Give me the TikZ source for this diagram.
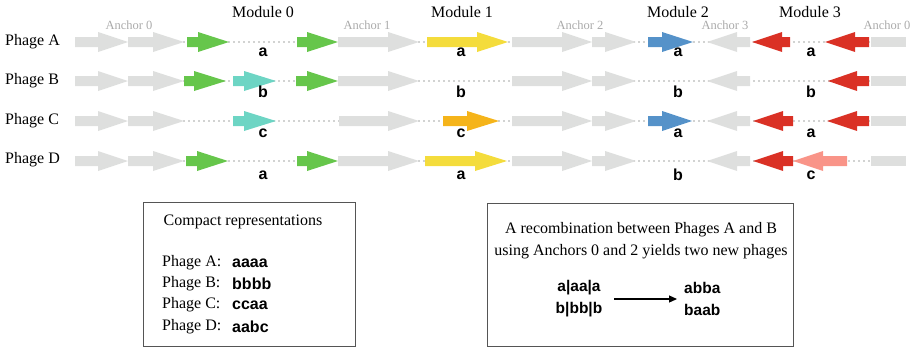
\documentclass[tikz,border=0pt]{standalone}
\usepackage{fontspec}
\setmainfont{Liberation Serif}
\newfontfamily\hvf{Liberation Sans}
\usetikzlibrary{arrows.meta}
\definecolor{gry}{HTML}{DEDFDE}
\definecolor{grn}{HTML}{66C64B}
\definecolor{tea}{HTML}{6DD5C4}
\definecolor{ylw}{HTML}{F4DC3C}
\definecolor{org}{HTML}{F5B41A}
\definecolor{blu}{HTML}{5592C9}
\definecolor{rd}{HTML}{DA3125}
\definecolor{pnk}{HTML}{F99488}
\definecolor{dotc}{HTML}{D2D3D2}
\definecolor{anc}{HTML}{AAAAAA}
\definecolor{boxc}{HTML}{555555}
\newcommand\rgene[5]{\fill[#1] (#2,#5-5) -- (#3,#5-5) -- (#3,#5-10) -- (#4,#5) -- (#3,#5+10) -- (#3,#5+5) -- (#2,#5+5) -- cycle;}
\newcommand\lgene[5]{\fill[#1] (#2,#5) -- (#3,#5-10) -- (#3,#5-5) -- (#4,#5-5) -- (#4,#5+5) -- (#3,#5+5) -- (#3,#5+10) -- cycle;}
\newcommand\gblock[1]{\fill[gry] (871,#1-5) rectangle (906,#1+5);}
\begin{document}
\begin{tikzpicture}[x=1pt,y=-1pt,
  txt/.style={inner sep=0pt,font=\fontsize{16}{19}\selectfont},
  anclab/.style={inner sep=0pt,text=anc,font=\fontsize{12.5}{15}\selectfont},
  lett/.style={inner sep=0pt,font=\hvf\bfseries\fontsize{16}{19}\selectfont},
  reclett/.style={inner sep=0pt,font=\hvf\bfseries\fontsize{15.5}{19}\selectfont},
  backbone/.style={draw=dotc,line width=2.5pt,dash pattern=on 2pt off 3pt},
  panel/.style={draw=boxc,line width=0.9pt}]
\useasboundingbox (0,0) rectangle (923,348);
% backbones
\foreach \r/\y in {A/42,B/81,C/121,D/161}{
  \coordinate (s\r) at (128,\y);
  \coordinate (e\r) at (875,\y);
  \draw[backbone] (s\r) -- (e\r);
}
% headers
\node[txt] (m0) at (263,12) {Module 0};
\node[txt] (m1) at (462,12) {Module 1};
\node[txt] (m2) at (678,12) {Module 2};
\node[txt] (m3) at (810,12) {Module 3};
\node[anclab] (an0) at (129,25) {Anchor 0};
\node[anclab] (an1) at (367,25) {Anchor 1};
\node[anclab] (an2) at (580,25) {Anchor 2};
\node[anclab] (an3) at (725,25) {Anchor 3};
\node[anclab] (an0b) at (887,25) {Anchor 0};
% phage labels
\node[txt,anchor=west] (phA) at (5,42) {Phage A};
\node[txt,anchor=west] (phB) at (5,81) {Phage B};
\node[txt,anchor=west] (phC) at (5,121) {Phage C};
\node[txt,anchor=west] (phD) at (5,160) {Phage D};
% Row A
\rgene{gry}{75}{98}{128}{42}
\rgene{gry}{128}{153}{184}{42}
\rgene{grn}{187}{198}{229}{42}
\rgene{grn}{297}{307}{338}{42}
\rgene{gry}{338}{388}{419}{42}
\rgene{ylw}{427}{477}{508}{42}
\rgene{gry}{512}{562}{592}{42}
\rgene{gry}{592}{605}{636}{42}
\rgene{blu}{648}{662}{693}{42}
\lgene{gry}{707}{737}{750}{42}
\lgene{rd}{752}{782}{790}{42}
\lgene{rd}{825}{855}{869}{42}
\gblock{42}
% Row B
\rgene{gry}{75}{98}{128}{81}
\rgene{gry}{128}{153}{184}{81}
\rgene{grn}{184}{194}{226}{81}
\rgene{tea}{233}{244}{276}{81}
\rgene{grn}{296}{307}{338}{81}
\rgene{gry}{338}{388}{419}{81}
\rgene{gry}{512}{562}{592}{81}
\rgene{gry}{592}{605}{636}{81}
\lgene{gry}{707}{737}{750}{81}
\lgene{rd}{828}{857}{869}{81}
\gblock{81}
% Row C
\rgene{gry}{75}{98}{128}{121}
\rgene{gry}{128}{153}{184}{121}
\rgene{tea}{233}{244}{276}{121}
\rgene{gry}{339}{388}{419}{121}
\rgene{org}{443}{467}{499}{121}
\rgene{gry}{512}{562}{592}{121}
\rgene{gry}{592}{605}{636}{121}
\rgene{blu}{648}{662}{692}{121}
\lgene{gry}{707}{737}{750}{121}
\lgene{rd}{753}{783}{793}{121}
\lgene{rd}{827}{857}{869}{121}
\gblock{121}
% Row D
\rgene{gry}{75}{98}{128}{161}
\rgene{gry}{128}{153}{184}{161}
\rgene{grn}{186}{197}{228}{161}
\rgene{grn}{297}{307}{338}{161}
\rgene{gry}{338}{388}{419}{161}
\rgene{ylw}{425}{475}{507}{161}
\rgene{gry}{512}{562}{592}{161}
\rgene{gry}{592}{605}{636}{161}
\lgene{gry}{707}{737}{750}{161}
\lgene{rd}{753}{783}{793}{161}
\lgene{pnk}{793}{823}{847}{161}
\gblock{161}
% letters
\node[lett] (lA0) at (263,52) {a};
\node[lett] (lA1) at (461,52) {a};
\node[lett] (lA2) at (678,52) {a};
\node[lett] (lA3) at (811,52) {a};
\node[lett] (lB0) at (263,92) {b};
\node[lett] (lB1) at (461,92) {b};
\node[lett] (lB2) at (678,92) {b};
\node[lett] (lB3) at (811,92) {b};
\node[lett] (lC0) at (263,133) {c};
\node[lett] (lC1) at (461,133) {c};
\node[lett] (lC2) at (678,133) {a};
\node[lett] (lC3) at (811,133) {a};
\node[lett] (lD0) at (263,175) {a};
\node[lett] (lD1) at (461,175) {a};
\node[lett] (lD2) at (678,175) {b};
\node[lett] (lD3) at (811,175) {c};
% left panel
\draw[panel] (143,202) rectangle (355,346);
\node[txt] (ct) at (243,222) {Compact representations};
\node[txt,anchor=west] (cA) at (162,263) {Phage A:};
\node[txt,anchor=west] (cB) at (162,284) {Phage B:};
\node[txt,anchor=west] (cC) at (162,305) {Phage C:};
\node[txt,anchor=west] (cD) at (162,327) {Phage D:};
\node[lett,anchor=west] (vA) at (232,263) {aaaa};
\node[lett,anchor=west] (vB) at (232,284) {bbbb};
\node[lett,anchor=west] (vC) at (232,305) {ccaa};
\node[lett,anchor=west] (vD) at (232,327) {aabc};
% right panel
\draw[panel] (487,203) rectangle (793,346);
\node[txt] (rt1) at (641,230) {A recombination between Phages A and B};
\node[txt] (rt2) at (641,252) {using Anchors 0 and 2 yields two new phages};
\node[reclett,align=center] (rec1) at (579,299) {a|aa|a\\[3pt]b|bb|b};
\node[reclett,align=left,anchor=west] (rec2) at (684,299) {abba\\[3pt]baab};
\draw[line width=1.2pt,-{Triangle[length=8pt,width=7pt]}] ([xshift=12pt]rec1.east) -- ([xshift=-7pt]rec2.west);
\end{tikzpicture}
\end{document}
